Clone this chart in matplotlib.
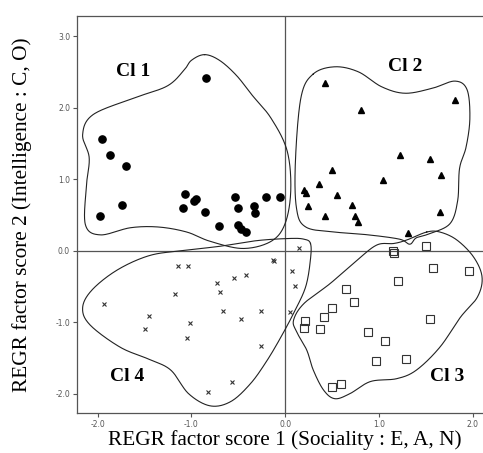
import numpy as np
import matplotlib.pyplot as plt

# cluster members (REGR factor score 1, REGR factor score 2)
cl1_x = [-0.84, -1.95, -1.87, -1.70, -1.74, -1.97, -1.07, -1.09, -0.97, -0.95, -0.86,
         -0.71, -0.53, -0.50, -0.50, -0.47, -0.42, -0.33, -0.32, -0.20, -0.06]
cl1_y = [2.42, 1.56, 1.33, 1.18, 0.64, 0.48, 0.79, 0.59, 0.69, 0.72, 0.54,
         0.35, 0.75, 0.59, 0.36, 0.30, 0.26, 0.62, 0.53, 0.75, 0.75]

cl2_x = [0.43, 0.81, 1.81, 1.23, 1.54, 1.66, 1.04, 0.50, 0.36, 0.20, 0.22,
         0.55, 0.24, 0.43, 0.71, 0.75, 0.78, 1.65, 1.31]
cl2_y = [2.35, 1.97, 2.11, 1.34, 1.28, 1.06, 0.99, 1.13, 0.93, 0.85, 0.81,
         0.78, 0.63, 0.49, 0.64, 0.48, 0.40, 0.54, 0.25]

cl3_x = [1.15, 1.16, 1.50, 1.58, 1.96, 1.20, 0.65, 0.73, 0.50, 0.41, 0.21,
         0.20, 0.37, 1.55, 0.88, 1.06, 0.97, 1.29, 0.50, 0.60]
cl3_y = [-0.01, -0.04, 0.06, -0.24, -0.29, -0.43, -0.54, -0.72, -0.80, -0.93, -0.98,
         -1.08, -1.09, -0.95, -1.14, -1.26, -1.55, -1.52, -1.91, -1.87]

cl4_x = [-1.14, -1.04, -1.93, -1.18, -1.45, -1.49, -1.01, -1.05, -0.73, -0.69, -0.55,
         -0.42, -0.66, -0.47, -0.26, -0.26, -0.13, -0.12, -0.57, -0.82, 0.15, 0.07,
         0.11, 0.05]
cl4_y = [-0.22, -0.22, -0.74, -0.61, -0.91, -1.09, -1.01, -1.22, -0.45, -0.58, -0.38,
         -0.34, -0.84, -0.96, -0.85, -1.34, -0.13, -0.14, -1.84, -1.98, 0.04, -0.29,
         -0.50, -0.86]

# hand-drawn cluster outlines
cl1_outline = [(-0.86, 2.74), (-0.70, 2.66), (-0.52, 2.45), (-0.35, 2.17), (-0.15, 1.85),
               (0.02, 1.40), (0.06, 0.85), (0.00, 0.38), (-0.15, 0.13), (-0.45, 0.03),
               (-0.80, 0.13), (-1.05, 0.26), (-1.35, 0.33), (-1.65, 0.32), (-1.97, 0.22),
               (-2.13, 0.36), (-2.12, 0.90), (-2.09, 1.30), (-2.16, 1.62), (-2.05, 1.90),
               (-1.62, 2.13), (-1.26, 2.30), (-1.08, 2.52), (-1.00, 2.66)]
cl2_outline = [(0.30, 2.47), (0.53, 2.57), (0.78, 2.50), (1.03, 2.29), (1.28, 2.20),
               (1.57, 2.27), (1.81, 2.37), (1.94, 2.25), (1.97, 1.85), (1.93, 1.45),
               (1.86, 1.15), (1.84, 0.70), (1.76, 0.38), (1.55, 0.24), (1.40, 0.18),
               (1.33, 0.09), (1.22, 0.16), (0.89, 0.22), (0.53, 0.26), (0.22, 0.33),
               (0.12, 0.60), (0.11, 1.27), (0.17, 2.15)]
cl3_outline = [(1.51, 0.26), (1.30, 0.15), (1.16, 0.10), (0.98, 0.08), (0.77, -0.13),
               (0.48, -0.46), (0.20, -0.74), (0.09, -0.97), (0.12, -1.13), (0.23, -1.39),
               (0.30, -1.67), (0.41, -1.95), (0.53, -2.07), (0.69, -2.00), (0.91, -1.83),
               (1.19, -1.79), (1.40, -1.67), (1.65, -1.35), (1.87, -0.93), (2.05, -0.65),
               (2.10, -0.37), (2.01, -0.09), (1.83, 0.15), (1.65, 0.26)]
cl4_outline = [(0.27, 0.10), (0.27, -0.12), (0.22, -0.50), (0.10, -0.85), (-0.05, -1.22),
               (-0.20, -1.55), (-0.37, -1.86), (-0.58, -2.11), (-0.80, -2.17), (-1.03, -2.00),
               (-1.22, -1.67), (-1.45, -1.52), (-1.76, -1.35), (-2.08, -1.04), (-2.16, -0.80),
               (-2.06, -0.55), (-1.79, -0.27), (-1.45, -0.07), (-1.10, 0.00), (-0.70, 0.06),
               (-0.30, 0.14), (0.05, 0.17), (0.20, 0.16)]

labels = ['Cl 1', 'Cl 2', 'Cl 3', 'Cl 4']
label_x = [-1.62, 1.28, 1.73, -1.69]
label_y = [2.50, 2.57, -1.76, -1.76]

ticks = [-2.0, -1.0, 0.0, 1.0, 2.0, 3.0]


def smooth_closed(pts, n=30):
    # closed Catmull-Rom spline through the outline vertices
    p = np.asarray(pts, float)
    m = len(p)
    t = np.linspace(0, 1, n, endpoint=False)[:, None]
    segs = []
    for i in range(m):
        p0, p1, p2, p3 = p[i - 1], p[i], p[(i + 1) % m], p[(i + 2) % m]
        segs.append(0.5 * (2 * p1 + (-p0 + p2) * t + (2 * p0 - 5 * p1 + 4 * p2 - p3) * t ** 2
                           + (-p0 + 3 * p1 - 3 * p2 + p3) * t ** 3))
    c = np.vstack(segs)
    return np.vstack([c, c[:1]])


def main():
    fig = plt.figure(figsize=(4.83, 4.53), dpi=100)
    ax = fig.add_axes([77 / 483, 40 / 453, 406 / 483, 397 / 453])

    ax.axhline(0, color='#555555', lw=0.9, zorder=1)
    ax.axvline(0, color='#555555', lw=0.9, zorder=1)

    for outline in [cl1_outline, cl2_outline, cl3_outline, cl4_outline]:
        c = smooth_closed(outline)
        ax.plot(c[:, 0], c[:, 1], color='#222222', lw=0.8, zorder=2)

    ax.plot(cl1_x, cl1_y, 'o', ms=5.2, color='black', mec='black', zorder=3)
    ax.plot(cl2_x, cl2_y, '^', ms=4.2, color='black', mec='black', zorder=3)
    ax.plot(cl3_x, cl3_y, 's', ms=5.5, mfc='none', mec='#333333', mew=0.8, zorder=3)
    ax.plot(cl4_x, cl4_y, 'x', ms=3.5, color='#333333', mew=0.8, zorder=3)

    for lab, x, y in zip(labels, label_x, label_y):
        ax.text(x, y, lab, ha='center', va='center', fontsize=14, fontweight='bold',
                family='Liberation Serif')

    ax.set_xlim(-2.22, 2.11)
    ax.set_ylim(-2.27, 3.28)
    ax.set_xticks(ticks[:5])
    ax.set_yticks(ticks)
    ax.set_xticklabels([f'{v:.1f}' for v in ticks[:5]])
    ax.set_yticklabels([f'{v:.1f}' for v in ticks])
    ax.tick_params(labelsize=5.5, colors='#555555', length=3, width=0.8, pad=2)
    for s in ax.spines.values():
        s.set_color('#555555')
        s.set_linewidth(0.9)
    ax.spines['right'].set_visible(False)

    xl = ax.set_xlabel('REGR factor score 1 (Sociality : E, A, N)', family='Liberation Serif',
                       fontsize=15.3)
    yl = ax.set_ylabel('REGR factor score 2 (Intelligence : C, O)', family='Liberation Serif',
                       fontsize=15.3)
    xl.set_va('center')
    yl.set_va('center')
    ax.xaxis.set_label_coords(0.511, -0.068)
    ax.yaxis.set_label_coords(-0.135, 0.499)

    fig.savefig('out.png', dpi=100)
    plt.close(fig)


if __name__ == "__main__":
    main()
